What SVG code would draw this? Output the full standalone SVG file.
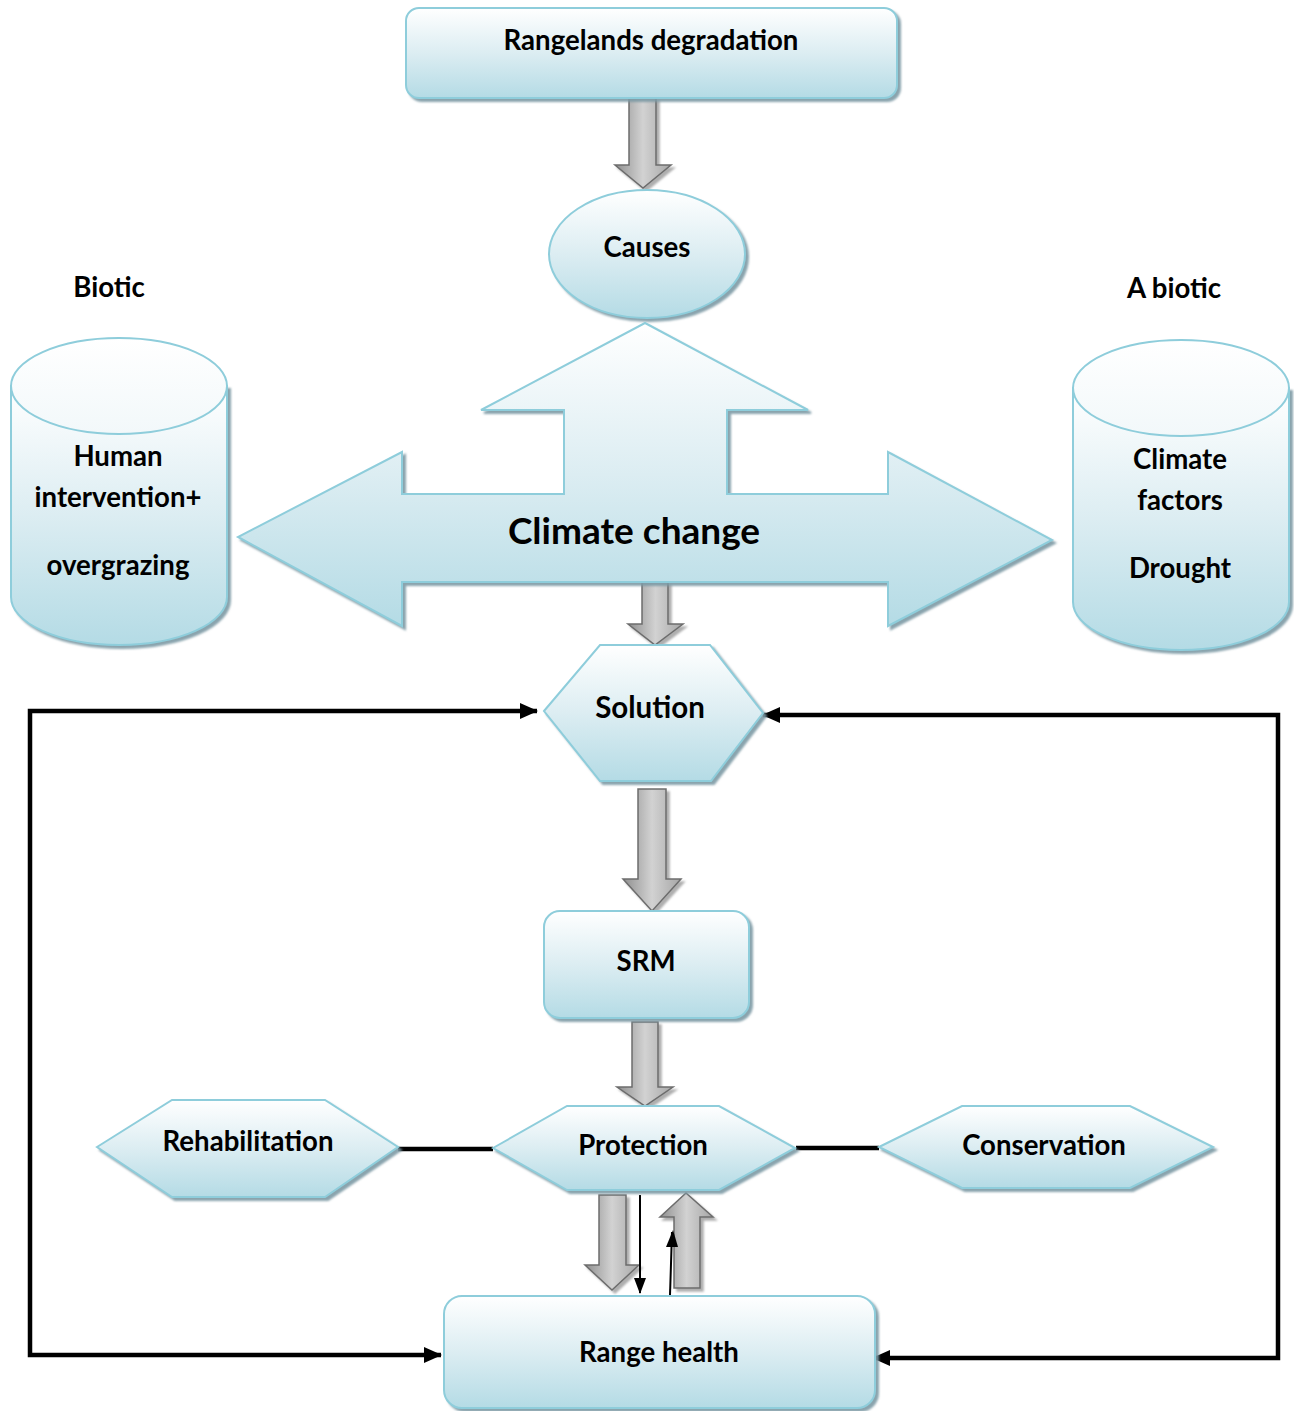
<svg xmlns="http://www.w3.org/2000/svg" width="1294" height="1411" viewBox="0 0 1294 1411">
<style>
.node{fill:url(#blue);stroke:#8ecddb;stroke-width:2;filter:url(#sh)}
.cap{fill:url(#capg);stroke:#8ecddb;stroke-width:2}
.garrow{fill:url(#grey);stroke:#6c6c6c;stroke-width:1.5;filter:url(#gsh)}
.lbl{font-family:Lato,"Open Sans","Liberation Sans",sans-serif;font-weight:bold;font-size:27.6px;fill:#000;text-anchor:middle}
.loop{fill:none;stroke:#000;stroke-width:4.5;marker-start:url(#ah);marker-end:url(#ah)}
.link{fill:none;stroke:#000;stroke-width:4.5}
</style>
<defs>
<linearGradient id="blue" x1="0" y1="0" x2="0" y2="1">
<stop offset="0" stop-color="#ffffff"/>
<stop offset="0.5" stop-color="#dcedf2"/>
<stop offset="1" stop-color="#b4dbe5"/>
</linearGradient>
<linearGradient id="capg" x1="0" y1="0" x2="0" y2="1">
<stop offset="0" stop-color="#ffffff"/>
<stop offset="1" stop-color="#f2f8fa"/>
</linearGradient>
<linearGradient id="grey" x1="0" y1="0" x2="1" y2="0">
<stop offset="0" stop-color="#8f8f8f"/>
<stop offset="0.5" stop-color="#d2d2d2"/>
<stop offset="1" stop-color="#a6a6a6"/>
</linearGradient>
<filter id="sh" x="-10%" y="-10%" width="125%" height="125%">
<feDropShadow dx="3" dy="3" stdDeviation="0.8" flood-color="#7d9aa4" flood-opacity="0.9"/>
</filter>
<filter id="gsh" x="-20%" y="-10%" width="150%" height="130%">
<feDropShadow dx="3" dy="3" stdDeviation="0.8" flood-color="#9a9a9a" flood-opacity="0.8"/>
</filter>
<marker id="ah" markerUnits="userSpaceOnUse" markerWidth="18" markerHeight="16" viewBox="0 0 18 16" refX="17" refY="8" orient="auto-start-reverse">
<path d="M0,0 L18,8 L0,16 Z" fill="#000"/>
</marker>
</defs>
<rect width="1294" height="1411" fill="#ffffff"/>

<g id="connectors">
<path class="loop" d="M537,711 H30 V1355 H441"/>
<path class="loop" d="M763,715 H1278 V1358 H873"/>
<path class="link" d="M398,1149 H493"/>
<path class="link" d="M796,1148 H879"/>
<path class="garrow" d="M629,98 H656 V165 H671 L643,188 L615,165 H629 Z"/>
<path class="garrow" d="M642,582 H668 V624 H683 L655,645 L628,624 H642 Z"/>
<path class="garrow" d="M638,789 H666 V879 H681 L652,911 L623,879 H638 Z"/>
<path class="garrow" d="M632,1022 H658 V1087 H673 L645,1106 L617,1087 H632 Z"/>
<path class="garrow" d="M599,1195 H626 V1265 H639 L612,1290 L585,1265 H599 Z"/>
<path class="garrow" d="M674,1288 V1217 H660 L686,1193 L713,1217 H700 V1288 Z"/>
<line x1="640" y1="1195" x2="640" y2="1293" stroke="#000" stroke-width="2"/>
<path d="M634,1278 L646,1278 L640,1294 Z" fill="#000"/>
<line x1="670" y1="1295" x2="672" y2="1232" stroke="#000" stroke-width="2"/>
<path d="M666,1247 L678,1247 L673,1230 Z" fill="#000"/>
</g>

<g id="rangelands">
<rect class="node" x="406" y="8" width="491" height="90" rx="13"/>
<text class="lbl" x="651" y="50">Rangelands degradation</text>
</g>

<g id="causes">
<ellipse class="node" cx="647" cy="254" rx="98" ry="64"/>
<text class="lbl" x="647" y="257">Causes</text>
</g>

<g id="climate">
<path class="node" d="M645,323 L808,410 H727 V494 H888 V452 L1052,540 L888,626 V582 H402 V626 L238,537 L402,452 V494 H564 V410 H481 Z"/>
<text class="lbl" x="634" y="544" style="font-size:37px">Climate change</text>
</g>

<g id="biotic">
<text class="lbl" x="109" y="297">Biotic</text>
<path class="node" d="M11,386 V597 A108,48 0 0 0 227,597 V386 Z"/>
<ellipse class="cap" cx="119" cy="386" rx="108" ry="48"/>
<text class="lbl" x="118" y="466">Human</text>
<text class="lbl" x="118" y="507">intervention+</text>
<text class="lbl" x="118" y="575">overgrazing</text>
</g>

<g id="abiotic">
<text class="lbl" x="1174" y="298">A biotic</text>
<path class="node" d="M1073,388 V602 A108,48 0 0 0 1289,602 V388 Z"/>
<ellipse class="cap" cx="1181" cy="388" rx="108" ry="48"/>
<text class="lbl" x="1180" y="469">Climate</text>
<text class="lbl" x="1180" y="510">factors</text>
<text class="lbl" x="1180" y="578">Drought</text>
</g>

<g id="solution">
<path class="node" d="M544,711 L600,645 H710 L763,713 L711,781 H600 Z"/>
<text class="lbl" x="650" y="718" style="font-size:29.5px">Solution</text>
</g>

<g id="srm">
<rect class="node" x="544" y="911" width="205" height="107" rx="16"/>
<text class="lbl" x="646" y="971">SRM</text>
</g>

<g id="protection">
<path class="node" d="M493,1148 L567,1106 H719 L795,1148 L719,1190 H567 Z"/>
<text class="lbl" x="643" y="1155">Protection</text>
</g>

<g id="rehabilitation">
<path class="node" d="M97,1147 L172,1100 H325 L398,1147 L325,1197 H172 Z"/>
<text class="lbl" x="248" y="1151">Rehabilitation</text>
</g>

<g id="conservation">
<path class="node" d="M879,1147 L962,1106 H1130 L1213,1147 L1130,1188 H962 Z"/>
<text class="lbl" x="1044" y="1155">Conservation</text>
</g>

<g id="rangehealth">
<rect class="node" x="444" y="1296" width="431" height="112" rx="18"/>
<text class="lbl" x="659" y="1362">Range health</text>
</g>
</svg>
